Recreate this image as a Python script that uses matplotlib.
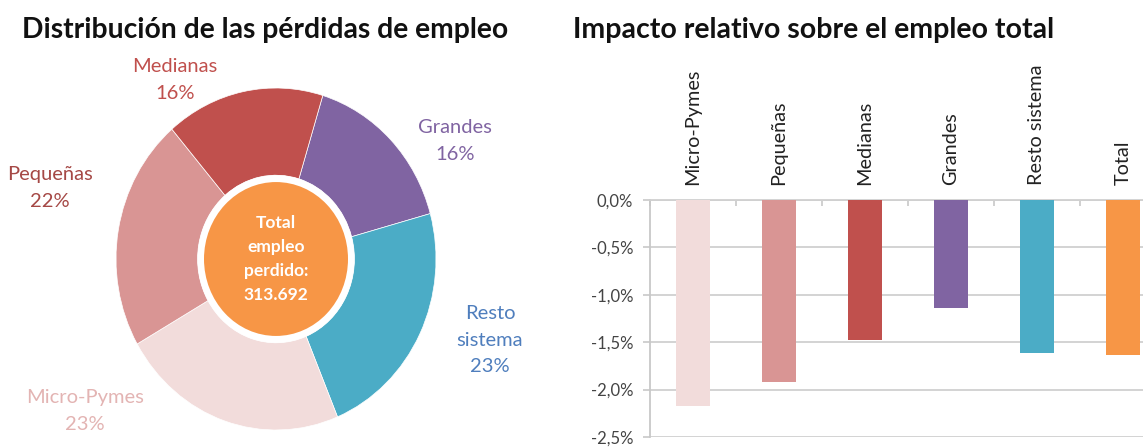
import matplotlib
matplotlib.use("Agg")
import matplotlib.pyplot as plt
from matplotlib.patches import Circle
import numpy as np

# ---- data ----
pie_labels = ["Grandes", "Resto\nsistema", "Micro-Pymes", "Pequeñas", "Medianas"]
pie_values = [16, 23, 23, 22, 16]
pie_colors = ["#8064A2", "#4BACC6", "#F2DCDB", "#D99594", "#C0504D"]
pie_label_colors = ["#8064A2", "#4F7EBD", "#E3B4B3", "#A54845", "#C0504D"]
center_text = "Total\nempleo\nperdido:\n313.692"

bar_categories = ["Micro-Pymes", "Pequeñas", "Medianas", "Grandes", "Resto sistema", "Total"]
bar_values = [-2.17, -1.92, -1.48, -1.14, -1.61, -1.64]
bar_colors = ["#F2DCDB", "#D99594", "#C0504D", "#8064A2", "#4BACC6", "#F79646"]
y_ticks = [0.0, -0.5, -1.0, -1.5, -2.0, -2.5]
y_ticklabels = ["0,0%", "-0,5%", "-1,0%", "-1,5%", "-2,0%", "-2,5%"]

W, H = 1143, 447
plt.rcParams['font.family'] = ['Lato', 'DejaVu Sans']
fig = plt.figure(figsize=(W / 100, H / 100), dpi=100)

def fx(px):
    return px / W

def fy(py):
    return 1 - py / H

# ---- titles ----
fig.text(fx(22), fy(30), "Distribución de las pérdidas de empleo", fontsize=20.3,
         fontweight="bold", ha="left", va="center", color="#111111")
fig.text(fx(573), fy(30), "Impacto relativo sobre el empleo total", fontsize=20.5,
         fontweight="bold", ha="left", va="center", color="#111111")

# ---- donut ----
axp = fig.add_axes([fx(116), fy(430), fx(320), 342 / H])
wedges, _ = axp.pie(pie_values, colors=pie_colors, startangle=73, counterclock=False,
                    radius=1.0, wedgeprops=dict(width=0.51, edgecolor="white", linewidth=0.5))
axp.add_patch(Circle((0, 0), 0.49, facecolor="white", edgecolor="none"))
axp.add_patch(Circle((0, 0), 0.45, facecolor="#F79646", edgecolor="none"))
axp.set_aspect("auto")
axp.set_xlim(-1, 1)
axp.set_ylim(-1, 1)
axp.axis("off")
axp.text(0, 0, center_text, ha="center", va="center", color="white",
         fontsize=12.5, fontweight="bold", linespacing=1.6)

# label positions (pixels) for each slice label
label_pos = [(455, 141), (490, 340), (85, 411), (50, 188), (175, 80)]
for lab, val, col, (px, py) in zip(pie_labels, pie_values, pie_label_colors, label_pos):
    fig.text(fx(px), fy(py), f"{lab}\n{val}%", ha="center", va="center",
             color=col, fontsize=14.5, linespacing=1.65)

# ---- bars ----
axb = fig.add_axes([fx(650), fy(437), fx(516), 237 / H])
x = np.arange(len(bar_categories))
axb.bar(x, bar_values, width=0.39, color=bar_colors, zorder=3)
axb.set_xlim(-0.5, len(bar_categories) - 0.5)
axb.set_ylim(-2.5, 0)
axb.set_yticks(y_ticks)
axb.set_yticklabels(y_ticklabels, fontsize=12, color="#444444")
axb.yaxis.grid(True, color="#D0D0D0", linewidth=1.3, zorder=0)
axb.tick_params(axis="y", length=5, width=1.2, color="#C8C8C8", pad=7)
axb.xaxis.tick_top()
axb.set_xticks(np.arange(len(bar_categories) + 1) - 0.5)
axb.set_xticklabels([])
axb.tick_params(axis="x", which="major", direction="in", length=4, width=1.2, color="#C8C8C8")
axb.set_xticks(x, minor=True)
axb.set_xticklabels(bar_categories, minor=True, rotation=90, fontsize=14.3, color="#222222")
axb.tick_params(axis="x", which="minor", length=0, pad=11)
for s in ["right", "bottom"]:
    axb.spines[s].set_visible(False)
axb.spines["left"].set_color("#C8C8C8")
axb.spines["left"].set_linewidth(1.3)
axb.spines["top"].set_color("#D0D0D0")
axb.spines["top"].set_linewidth(1.3)

fig.savefig("out.png", dpi=100)
